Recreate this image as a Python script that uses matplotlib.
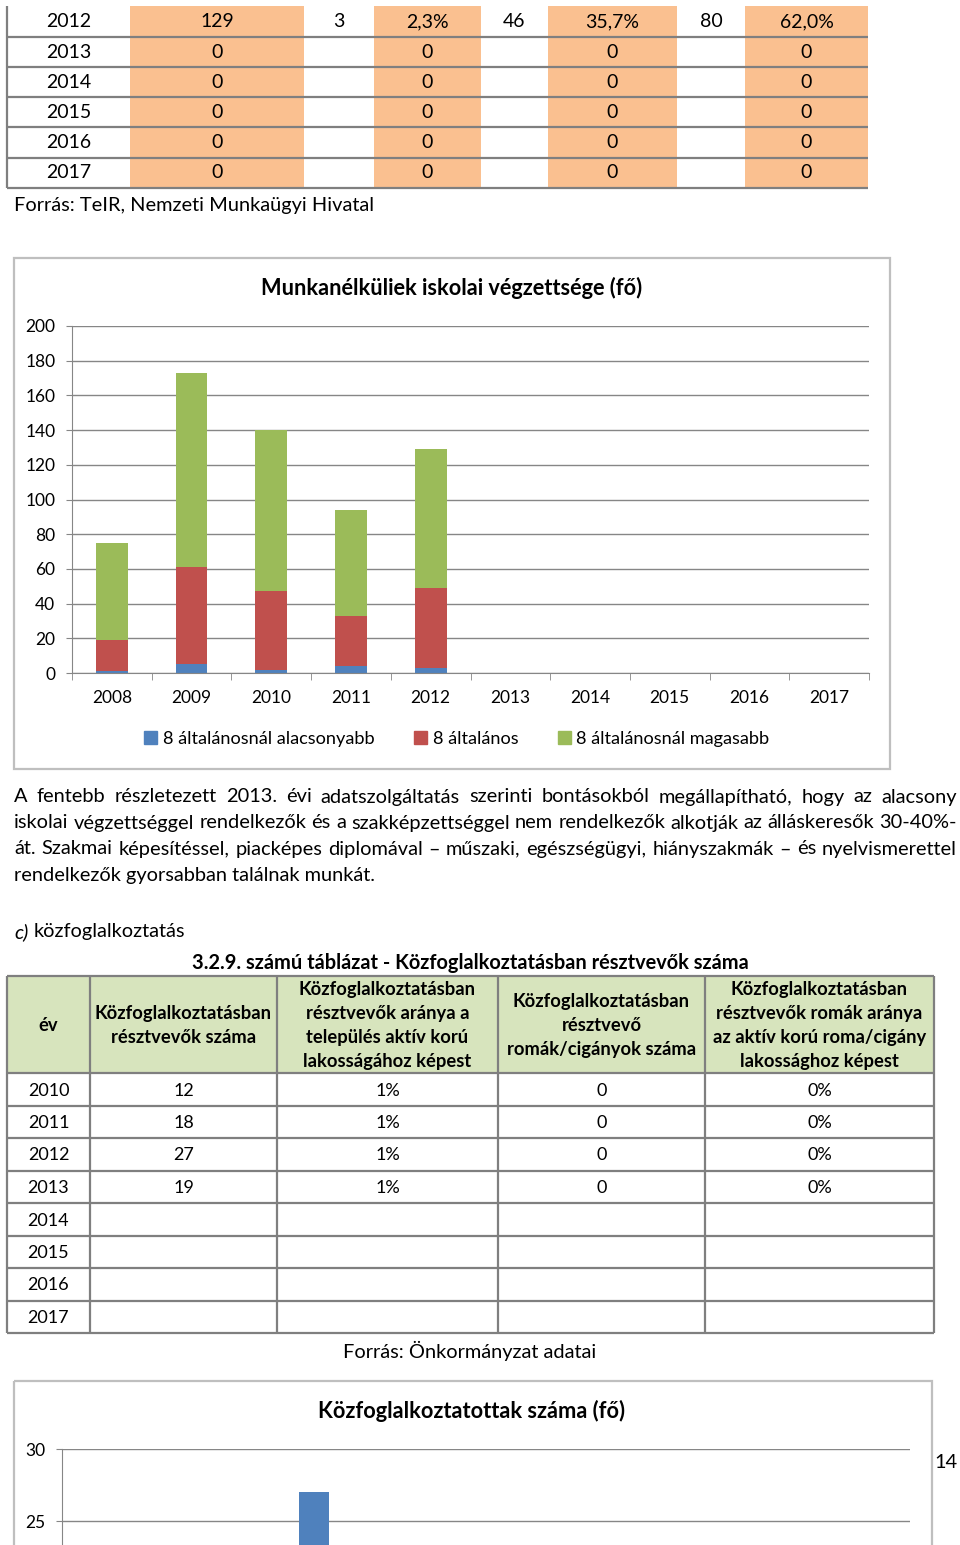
import numpy as np
import matplotlib.pyplot as plt
from matplotlib.patches import Rectangle, Patch

plt.rcParams['font.family'] = ['Lato', 'DejaVu Sans']

W, H = 960, 1545

# top table (continued from previous page)
top_years = ['2012', '2013', '2014', '2015', '2016', '2017']
top_total = ['129', '0', '0', '0', '0', '0']
top_low = ['3', '', '', '', '', '']
top_low_pct = ['2,3%', '0', '0', '0', '0', '0']
top_mid = ['46', '', '', '', '', '']
top_mid_pct = ['35,7%', '0', '0', '0', '0', '0']
top_high = ['80', '', '', '', '', '']
top_high_pct = ['62,0%', '0', '0', '0', '0', '0']

# chart 1
chart_years = ['2008', '2009', '2010', '2011', '2012', '2013', '2014', '2015', '2016', '2017']
low_vals = [1, 5, 2, 4, 3, 0, 0, 0, 0, 0]
mid_vals = [18, 56, 45, 29, 46, 0, 0, 0, 0, 0]
high_vals = [56, 112, 93, 61, 80, 0, 0, 0, 0, 0]
series_names = ['8 általánosnál alacsonyabb', '8 általános', '8 általánosnál magasabb']

# table 3.2.9
kozf_years = ['2010', '2011', '2012', '2013', '2014', '2015', '2016', '2017']
kozf_count = ['12', '18', '27', '19', '', '', '', '']
kozf_ratio = ['1%', '1%', '1%', '1%', '', '', '', '']
roma_count = ['0', '0', '0', '0', '', '', '', '']
roma_ratio = ['0%', '0%', '0%', '0%', '', '', '', '']
kozf_header = ['év',
               'Közfoglalkoztatásban\nrésztvevők száma',
               'Közfoglalkoztatásban\nrésztvevők aránya a\ntelepülés aktív korú\nlakosságához képest',
               'Közfoglalkoztatásban\nrésztvevő\nromák/cigányok száma',
               'Közfoglalkoztatásban\nrésztvevők romák aránya\naz aktív korú roma/cigány\nlakossághoz képest']

# chart 2
kozf_values = [12, 18, 27, 19]

BLUE, RED, GREEN = '#4F81BD', '#C0504D', '#9BBB59'
ORANGE = '#FAC090'
HEAD_GREEN = '#D7E4BD'
LINE = '#7F7F7F'
AX_GREY = '#868686'
FS = 12.5       # chart ticks, table 2 cells
FS_BODY = 14.4  # running text
FS_T1 = 14

fig = plt.figure(figsize=(W / 100, H / 100), dpi=100)
page = fig.add_axes([0, 0, 1, 1])
page.set_xlim(0, W)
page.set_ylim(H, 0)
page.axis('off')


def hline(y, x0, x1, lw=1.6, c=LINE):
    page.plot([x0, x1], [y, y], color=c, lw=lw, solid_capstyle='butt')


def vline(x, y0, y1, lw=1.6, c=LINE):
    page.plot([x, x], [y0, y1], color=c, lw=lw, solid_capstyle='butt')


# ---- top table ----
col_edges = [7, 130, 304, 374, 481, 548, 677, 745, 868]
row_edges = [6, 37, 67, 97, 127, 158, 188]
for i in (1, 3, 5, 7):
    page.add_patch(Rectangle((col_edges[i], row_edges[0]), col_edges[i + 1] - col_edges[i],
                             row_edges[-1] - row_edges[0], color=ORANGE, lw=0))
for y in row_edges[1:]:
    hline(y, col_edges[0], col_edges[-1])
vline(col_edges[0], row_edges[0], row_edges[-1])

cols = [top_years, top_total, top_low, top_low_pct, top_mid, top_mid_pct, top_high, top_high_pct]
for r in range(len(top_years)):
    yc = (row_edges[r] + row_edges[r + 1]) / 2
    for c, col in enumerate(cols):
        xc = (col_edges[c] + col_edges[c + 1]) / 2
        page.text(xc, yc, col[r], ha='center', va='center', fontsize=FS_T1)

page.text(14, 205, 'Forrás: TeIR, Nemzeti Munkaügyi Hivatal', ha='left', va='center', fontsize=FS_BODY)

# ---- chart 1 ----
page.add_patch(Rectangle((14, 258), 876, 511, fill=False, ec='#BFBFBF', lw=1.6))
page.text(452, 288, 'Munkanélküliek iskolai végzettsége (fő)', ha='center', va='center',
          fontsize=15.7, fontweight='bold')

ax1 = fig.add_axes([72 / W, 1 - 673 / H, 797 / W, 347 / H])
x = np.arange(len(chart_years))
low = np.array(low_vals)
mid = np.array(mid_vals)
high = np.array(high_vals)
ax1.bar(x, low, 0.4, color=BLUE)
ax1.bar(x, mid, 0.4, bottom=low, color=RED)
ax1.bar(x, high, 0.4, bottom=low + mid, color=GREEN)
ax1.set_xlim(-0.5, len(chart_years) - 0.5)
ax1.set_ylim(0, 200)
ax1.set_yticks(range(0, 201, 20))
ax1.set_xticks(x)
ax1.set_xticklabels(chart_years)
ax1.set_xticks(np.arange(-0.5, len(chart_years), 1), minor=True)
ax1.grid(axis='y', color=AX_GREY, lw=1)
ax1.set_axisbelow(True)
ax1.patch.set_alpha(0)
for s in ('top', 'right'):
    ax1.spines[s].set_visible(False)
for s in ('left', 'bottom'):
    ax1.spines[s].set_color(AX_GREY)
ax1.tick_params(axis='x', which='major', length=0, pad=12, labelsize=FS)
ax1.tick_params(axis='x', which='minor', length=5, color=AX_GREY)
ax1.tick_params(axis='y', length=4, color=AX_GREY, pad=8, labelsize=FS)

handles = [Patch(color=c) for c in (BLUE, RED, GREEN)]
fig.legend(handles, series_names, loc='center', bbox_to_anchor=(457 / W, 1 - 739 / H), ncol=3,
           frameon=False, handlelength=0.7, handleheight=0.7, handletextpad=0.3,
           columnspacing=2.2, fontsize=13.1)

# ---- paragraph ----
para = ['A fentebb részletezett 2013. évi adatszolgáltatás szerinti bontásokból megállapítható, hogy az alacsony',
        'iskolai végzettséggel rendelkezők és a szakképzettséggel nem rendelkezők alkotják az álláskeresők 30-40%-',
        'át. Szakmai képesítéssel, piacképes diplomával – műszaki, egészségügyi, hiányszakmák – és nyelvismerettel',
        'rendelkezők gyorsabban találnak munkát.']
para_y = [797, 823, 849, 876]
renderer = fig.canvas.get_renderer()
for i, (line, y) in enumerate(zip(para, para_y)):
    if i == len(para) - 1:
        page.text(14, y, line, ha='left', va='center', fontsize=FS_BODY)
        continue
    words = line.split(' ')
    texts = [page.text(0, y, w, ha='left', va='center', fontsize=FS_BODY) for w in words]
    widths = [t.get_window_extent(renderer=renderer).width for t in texts]
    gap = (957 - 14 - sum(widths)) / (len(words) - 1)
    xpos = 14
    for t, w in zip(texts, widths):
        t.set_x(xpos)
        xpos += w + gap

page.text(14, 932, 'c)', ha='left', va='center', fontsize=FS_BODY, style='italic')
page.text(34, 932, 'közfoglalkoztatás', ha='left', va='center', fontsize=FS_BODY)

# ---- table 3.2.9 ----
page.text(470, 963, '3.2.9. számú táblázat - Közfoglalkoztatásban résztvevők száma', ha='center',
          va='center', fontsize=14.4, fontweight='bold')
t_cols = [7, 90, 277, 498, 705, 934]
t_rows = [976, 1073, 1106, 1138, 1171, 1203, 1236, 1268, 1301, 1333]
page.add_patch(Rectangle((t_cols[0], t_rows[0]), t_cols[-1] - t_cols[0], t_rows[1] - t_rows[0],
                         color=HEAD_GREEN, lw=0))
for y in t_rows:
    hline(y, t_cols[0], t_cols[-1])
for xx in t_cols:
    vline(xx, t_rows[0], t_rows[-1])
for c, head in enumerate(kozf_header):
    xc = (t_cols[c] + t_cols[c + 1]) / 2
    page.text(xc, (t_rows[0] + t_rows[1]) / 2 + 1, head, ha='center', va='center', fontsize=13.2,
              fontweight='bold', linespacing=1.5)
t_data = [kozf_years, kozf_count, kozf_ratio, roma_count, roma_ratio]
for r in range(len(kozf_years)):
    yc = (t_rows[r + 1] + t_rows[r + 2]) / 2 + 1
    for c, col in enumerate(t_data):
        xc = (t_cols[c] + t_cols[c + 1]) / 2
        page.text(xc, yc, col[r], ha='center', va='center', fontsize=13)

page.text(470, 1351, 'Forrás: Önkormányzat adatai', ha='center', va='center', fontsize=FS_BODY)

# ---- chart 2 (cut at page bottom) ----
page.add_patch(Rectangle((14, 1381), 918, 300, fill=False, ec='#BFBFBF', lw=1.6))
page.text(472, 1411, 'Közfoglalkoztatottak száma (fő)', ha='center', va='center',
          fontsize=15.7, fontweight='bold')
ax2 = fig.add_axes([62 / W, 1 - (1449 + 432) / H, 848 / W, 432 / H])
ax2.bar(np.arange(len(kozf_values)), kozf_values, 0.28, color=BLUE)
ax2.set_xlim(-0.377, len(kozf_years) - 0.377)
ax2.set_ylim(0, 30)
ax2.set_yticks([25, 30])   # lower ticks fall below the page edge
ax2.set_xticks([])
ax2.grid(axis='y', color=AX_GREY, lw=1)
ax2.set_axisbelow(True)
ax2.patch.set_alpha(0)
for s in ('top', 'right', 'bottom'):
    ax2.spines[s].set_visible(False)
ax2.spines['left'].set_color(AX_GREY)
ax2.tick_params(axis='y', length=4, color=AX_GREY, pad=8, labelsize=FS)

page.text(946, 1463, '14', ha='center', va='center', fontsize=FS_BODY)

fig.savefig('out.png', dpi=100)
